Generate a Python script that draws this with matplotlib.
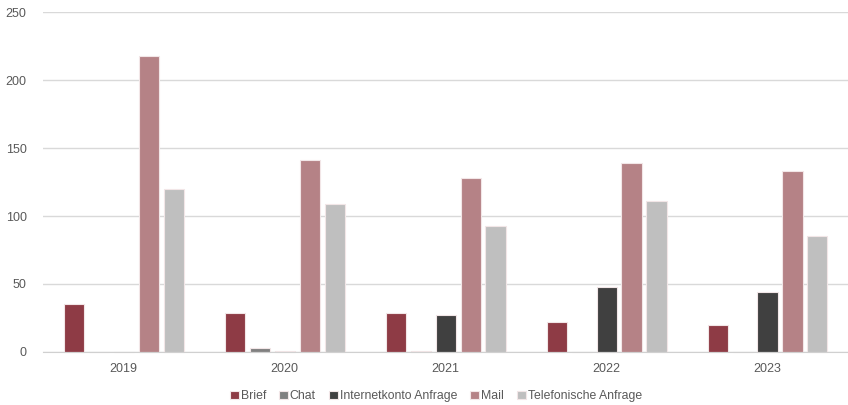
import numpy as np
import matplotlib.pyplot as plt

plt.rcParams['font.family'] = ['Liberation Sans', 'DejaVu Sans']

years = ["2019", "2020", "2021", "2022", "2023"]
series = ["Brief", "Chat", "Internetkonto Anfrage", "Mail", "Telefonische Anfrage"]
brief = [35, 29, 29, 22, 20]
chat = [0, 3, 1, 0.3, 0]
internet = [0, 1, 27, 48, 44]
mail = [218, 141, 128, 139, 133]
telefon = [120, 109, 93, 111, 85]
colours = ["#8e3b45", "#808080", "#404040", "#b58286", "#bfbfbf"]

fig = plt.figure(figsize=(8.48, 4.05), dpi=100)
ax = fig.add_axes([0.051, 0.131, 0.949, 0.839])

x = np.arange(len(years))
w = 0.125
pitch = 0.155
for i, (name, vals) in enumerate(zip(series, [brief, chat, internet, mail, telefon])):
    ax.bar(x + (i - 2) * pitch, vals, width=w, color=colours[i], label=name,
           edgecolor="#f2e6e7", linewidth=0.8, zorder=3, clip_on=False)

ax.set_xlim(-0.5, 4.5)
ax.set_ylim(0, 250)
ax.set_yticks([0, 50, 100, 150, 200, 250])
ax.set_xticks(x)
ax.set_xticklabels(years)
ax.tick_params(length=0, labelsize=9, colors="#595959")
ax.tick_params(axis="y", pad=12)
ax.tick_params(axis="x", pad=8)
ax.grid(axis="y", color="#d9d9d9", linewidth=1, zorder=0)
for s in ["top", "right", "left"]:
    ax.spines[s].set_visible(False)
ax.spines["bottom"].set_color("#d0d0d0")
ax.spines["bottom"].set_zorder(4)

ax.legend(loc="upper center", bbox_to_anchor=(0.488, -0.08), ncol=5, frameon=False,
          fontsize=8.8, handlelength=0.7, handleheight=0.7, handletextpad=0.15,
          columnspacing=1.1, labelcolor="#595959")

fig.savefig("out.png", dpi=100)
